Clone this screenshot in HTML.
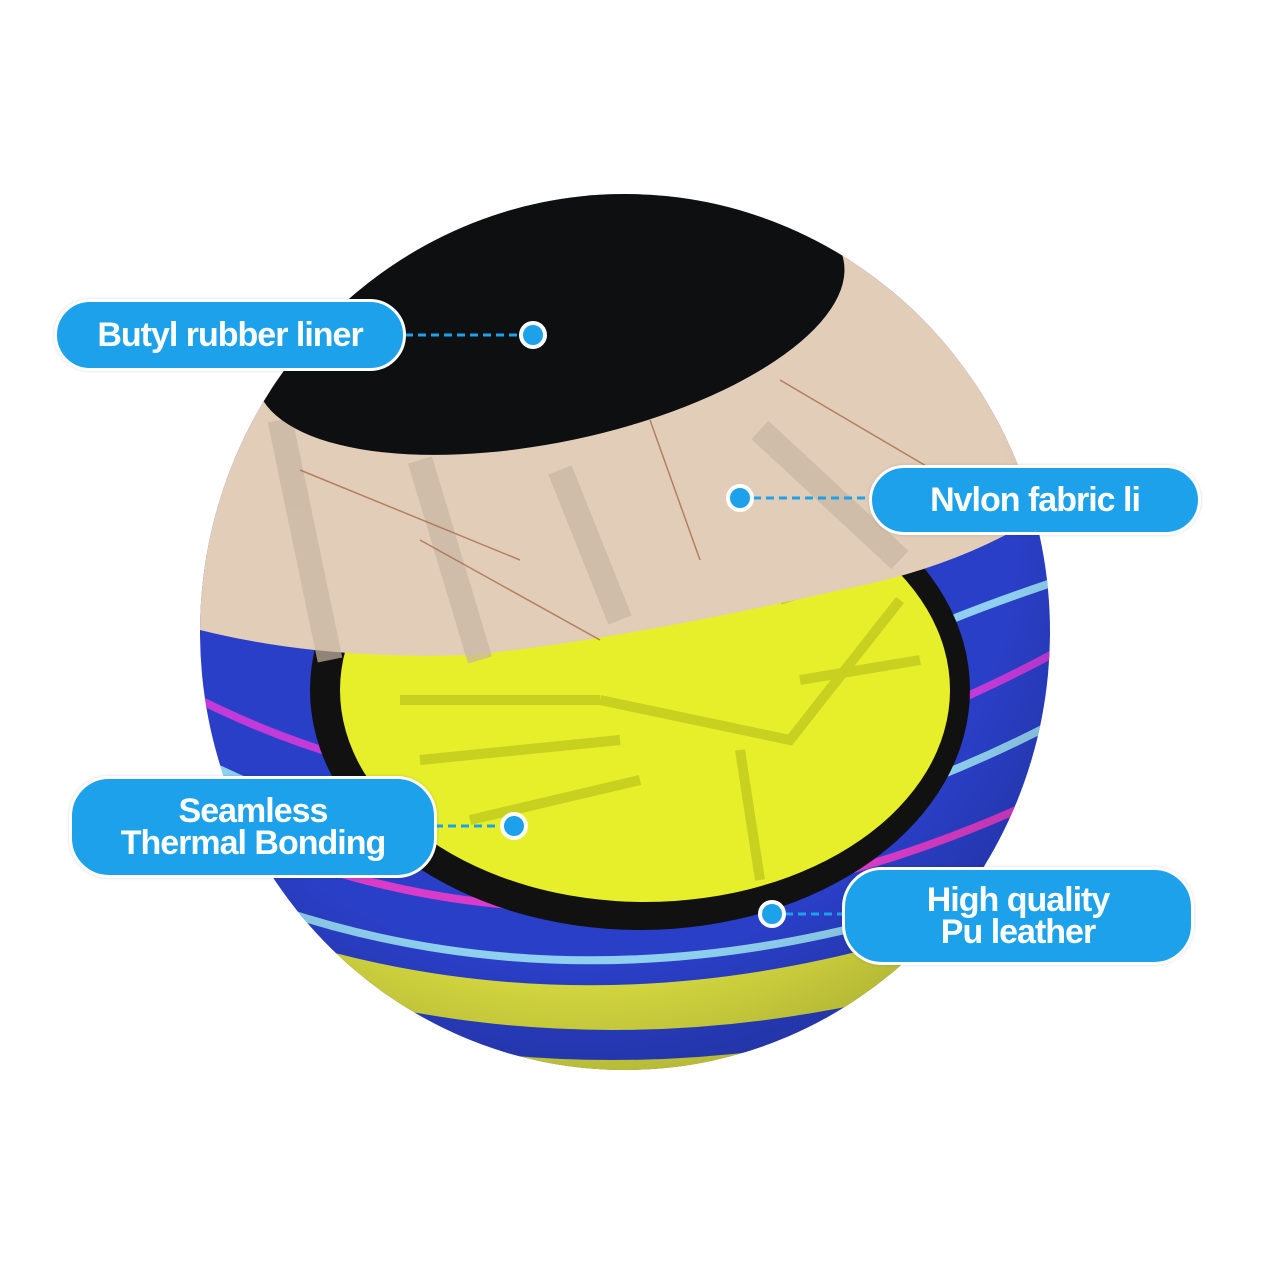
<!DOCTYPE html>
<html><head><meta charset="utf-8"><style>
html,body{margin:0;padding:0;background:#fff;}
.wrap{position:relative;width:1281px;height:1280px;overflow:hidden;background:#fff;}
svg{position:absolute;left:0;top:0;}
.pill{position:absolute;background:#1da1ea;border:3px solid #fff;border-radius:40px;color:#fff;font-family:"Liberation Sans",sans-serif;font-weight:bold;text-align:center;box-shadow:0 0 3px rgba(0,0,0,0.15);display:flex;align-items:center;justify-content:center;line-height:32px;letter-spacing:-1px;}
</style></head><body><div class="wrap">
<svg width="1281" height="1280" viewBox="0 0 1281 1280">
<defs>
<clipPath id="ball"><ellipse cx="625" cy="632" rx="425" ry="438"/></clipPath>
<radialGradient id="shade" cx="0.45" cy="0.4" r="0.65">
<stop offset="0.7" stop-color="#000" stop-opacity="0"/>
<stop offset="1" stop-color="#000" stop-opacity="0.25"/>
</radialGradient>
</defs>
<g clip-path="url(#ball)">
<rect x="150" y="150" width="950" height="950" fill="#2a3fc8"/>
<g stroke-width="8" fill="none">
<path d="M200 700 Q600 900 1060 650" stroke="#c23ad8"/>
<path d="M200 760 Q600 960 1060 720" stroke="#8fd0f0"/>
<path d="M200 820 Q600 1010 1060 790" stroke="#d93cc8"/>
<path d="M200 880 Q600 1050 1060 860" stroke="#8fd0f0"/>
<path d="M200 940 Q600 1100 1060 930" stroke="#c23ad8"/>
<path d="M900 540 Q1000 520 1060 500" stroke="#d93cc8"/>
<path d="M950 620 Q1000 600 1060 580" stroke="#8fd0f0"/>
</g>
<path d="M180 900 Q600 1080 1070 880 L1070 1100 L180 1100 Z" fill="#d8dc40"/>
<path d="M180 960 Q600 1130 1070 960" stroke="#2a3fc8" stroke-width="30" fill="none"/>
<ellipse cx="640" cy="690" rx="330" ry="240" fill="#111"/>
<ellipse cx="645" cy="690" rx="305" ry="212" fill="#e6ef2a"/>
<g stroke="#c8d020" stroke-width="10" fill="none">
<path d="M400 700 L600 700 M420 760 L620 740 M470 820 L640 780 M780 600 L900 560 M800 680 L920 660 M740 750 L760 880 M600 700 L790 740 L900 600"/>
</g>
<path d="M150 150 L1100 150 L1100 470 Q1000 560 840 590 Q620 640 470 655 Q320 660 200 630 Z" fill="#e2cdb8"/>
<g stroke="#c7b5a3" stroke-width="25" opacity="0.7">
<path d="M280 420 L330 660 M560 470 L620 620 M760 430 L900 560 M420 460 L480 660"/>
</g>
<g stroke="#a0603a" stroke-width="1.5" fill="none" opacity="0.7">
<path d="M300 470 L520 560 M650 420 L700 560 M420 540 L600 640 M780 380 L950 480"/>
</g>
<ellipse cx="550" cy="322" rx="300" ry="120" transform="rotate(-12 550 322)" fill="#0e0f10"/>
<rect x="150" y="150" width="950" height="950" fill="url(#shade)"/>
</g>
<g stroke="#1da1ea" stroke-width="3" stroke-dasharray="8 5">
<line x1="405" y1="335" x2="533" y2="335"/>
<line x1="740" y1="498" x2="870" y2="498"/>
<line x1="435" y1="826" x2="514" y2="826"/>
<line x1="772" y1="914" x2="843" y2="914"/>
</g>
<g fill="#1da1ea" stroke="#fff" stroke-width="4">
<circle cx="533" cy="335" r="12"/>
<circle cx="740" cy="498" r="12"/>
<circle cx="514" cy="826" r="12"/>
<circle cx="772" cy="914" r="12"/>
</g>
</svg>
<div class="pill" style="left:54px;top:299px;width:346px;height:66px;font-size:34px;">Butyl rubber liner</div>
<div class="pill" style="left:869px;top:465px;width:326px;height:64px;font-size:34px;">Nvlon fabric li</div>
<div class="pill" style="left:69px;top:776px;width:362px;height:96px;font-size:34px;">Seamless<br>Thermal Bonding</div>
<div class="pill" style="left:842px;top:867px;width:346px;height:92px;font-size:34px;">High quality<br>Pu leather</div>
</div></body></html>
